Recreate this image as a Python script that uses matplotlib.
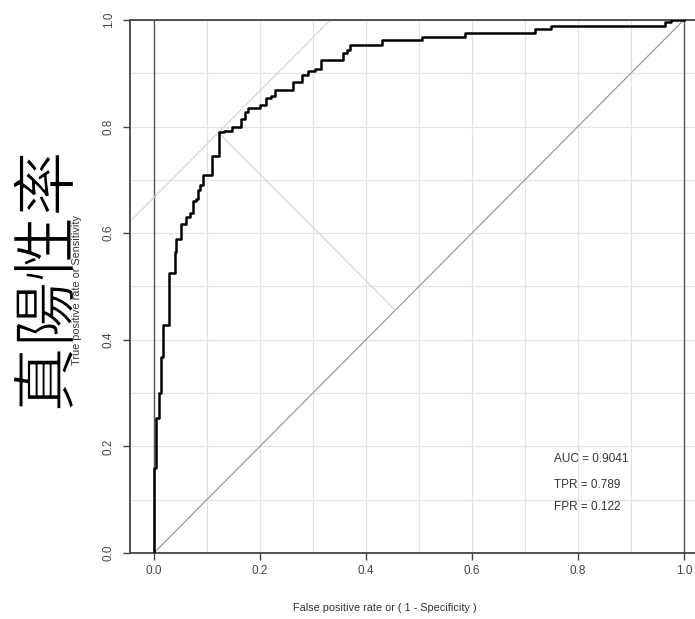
import numpy as np
import matplotlib
matplotlib.use("Agg")
import matplotlib.pyplot as plt
import matplotlib.patheffects as pe
from matplotlib.ticker import MultipleLocator

# ROC curve step vertices (fpr, tpr)
fpr = [0.0, 0.0, 0.005, 0.009, 0.013, 0.017, 0.029, 0.040, 0.0415, 0.052,
       0.060, 0.068, 0.073, 0.079, 0.083, 0.088, 0.092, 0.109, 0.122, 0.133,
       0.148, 0.164, 0.172, 0.178, 0.200, 0.211, 0.222, 0.228, 0.262, 0.279,
       0.291, 0.304, 0.316, 0.357, 0.364, 0.370, 0.430, 0.506, 0.588, 0.719,
       0.750, 0.964, 0.975, 1.0]
tpr = [0.0, 0.159, 0.253, 0.300, 0.368, 0.428, 0.526, 0.565, 0.589, 0.617,
       0.631, 0.637, 0.660, 0.665, 0.681, 0.690, 0.709, 0.744, 0.789, 0.792,
       0.800, 0.814, 0.828, 0.834, 0.840, 0.853, 0.857, 0.869, 0.884, 0.897,
       0.905, 0.909, 0.925, 0.938, 0.944, 0.954, 0.962, 0.969, 0.976, 0.983,
       0.988, 0.996, 1.0, 1.0]

auc = 0.9041
cut_fpr = 0.122
cut_tpr = 0.789

ticks = [0.0, 0.2, 0.4, 0.6, 0.8, 1.0]
tick_labels = ["0.0", "0.2", "0.4", "0.6", "0.8", "1.0"]

plt.rcParams['font.family'] = ['Liberation Sans', 'DejaVu Sans']

fig = plt.figure(figsize=(6.95, 6.19), dpi=100)
# axes box runs off the right edge, like the cropped original
ax = fig.add_axes([130 / 695, 66 / 619, 575 / 695, 533 / 619])
ax.set_xlim(-0.045, 1.04)
ax.set_ylim(0, 1)

# light grid every 0.1
ax.xaxis.set_major_locator(MultipleLocator(0.2))
ax.xaxis.set_minor_locator(MultipleLocator(0.1))
ax.yaxis.set_major_locator(MultipleLocator(0.2))
ax.yaxis.set_minor_locator(MultipleLocator(0.1))
ax.grid(which='both', color='#e3e3e3', linewidth=0.9, zorder=0)
ax.set_axisbelow(True)
ax.tick_params(which='minor', length=0)

ax.set_xticks(ticks)
ax.set_xticklabels(tick_labels)
ax.set_yticks(ticks)
ax.set_yticklabels(tick_labels, rotation=90, va='center')
ax.tick_params(which='major', length=5, width=1, color='#444444',
               labelsize=8.5, labelcolor='#444444', pad=4)
ax.tick_params(axis='y', pad=6)

for s in ax.spines.values():
    s.set_color('#444444')
    s.set_linewidth(1.3)

# x = 0 and x = 1 reference lines
ax.axvline(0, color='#555555', linewidth=1.0, zorder=1)
ax.axvline(1, color='#555555', linewidth=1.0, zorder=1)

# chance diagonal
ax.plot([0, 1], [0, 1], color='#9a9a9a', linewidth=0.9, zorder=2)

# tangent line through the cutoff (slope 1) and its perpendicular to the diagonal
ax.axline((cut_fpr, cut_tpr), slope=1, color='#d6d6d6', linewidth=0.9, zorder=2)
mid = (cut_fpr + cut_tpr) / 2
ax.plot([cut_fpr, mid], [cut_tpr, mid], color='#d6d6d6', linewidth=0.9, zorder=2)

# ROC curve
ax.step(fpr, tpr, where='post', color='black', linewidth=1.8, zorder=3)

ax.text(0.755, 0.17, f"AUC = {auc:.4f}", fontsize=8.5, color='#333333')
ax.text(0.755, 0.122, f"TPR = {cut_tpr:.3f}", fontsize=8.5, color='#333333')
ax.text(0.755, 0.08, f"FPR = {cut_fpr:.3f}", fontsize=8.5, color='#333333')

ax.set_xlabel("False positive rate or ( 1 - Specificity )", fontsize=7.8,
              color='#333333')
ax.xaxis.set_label_coords((385 - 130) / 575, -(603 - 553) / 533)

# big overlaid Chinese label, slightly thinned with a white outline
fig.text(50 / 695, 1 - 282 / 619, "真陽性率", rotation=90, ha='center', va='center',
         fontsize=47, family=['Noto Sans CJK TC', 'DejaVu Sans'],
         color='black', zorder=5,
         path_effects=[pe.Stroke(linewidth=0.9, foreground='white')])

# small English label drawn over the Chinese one
fig.text(77 / 695, 1 - 290 / 619, "True positive rate or Sensitivity",
         rotation=90, ha='center', va='center', fontsize=7.8, color='#333333',
         zorder=6)

fig.savefig("out.png", dpi=100)
